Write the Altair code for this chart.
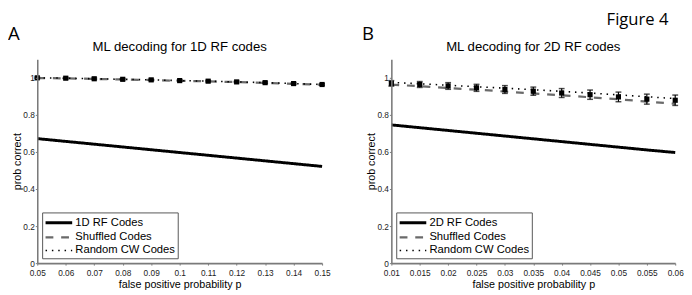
import altair as alt
import pandas as pd

# ---- data ----
x1 = [0.05, 0.06, 0.07, 0.08, 0.09, 0.10, 0.11, 0.12, 0.13, 0.14, 0.15]
rf1 = [0.672, 0.657, 0.642, 0.627, 0.612, 0.597, 0.582, 0.567, 0.552, 0.537, 0.522]
shuf1 = [0.999, 0.997, 0.994, 0.991, 0.988, 0.984, 0.981, 0.977, 0.973, 0.968, 0.963]
rand1 = [1.000, 0.998, 0.995, 0.992, 0.989, 0.985, 0.982, 0.978, 0.974, 0.969, 0.964]
err1 = [0.004, 0.004, 0.004, 0.004, 0.004, 0.004, 0.004, 0.004, 0.004, 0.004, 0.004]

x2 = [0.010, 0.015, 0.020, 0.025, 0.030, 0.035, 0.040, 0.045, 0.050, 0.055, 0.060]
rf2 = [0.746, 0.731, 0.716, 0.701, 0.686, 0.671, 0.656, 0.641, 0.626, 0.611, 0.597]
shuf2 = [0.963, 0.955, 0.945, 0.936, 0.926, 0.916, 0.906, 0.895, 0.884, 0.872, 0.860]
rand2 = [0.975, 0.968, 0.960, 0.952, 0.944, 0.936, 0.927, 0.918, 0.908, 0.898, 0.888]
mark2 = [0.970, 0.964, 0.956, 0.946, 0.937, 0.928, 0.918, 0.909, 0.897, 0.885, 0.879]
err2 = [0.015, 0.016, 0.018, 0.019, 0.021, 0.022, 0.024, 0.025, 0.026, 0.027, 0.028]

series1 = ["1D RF Codes", "Shuffled Codes", "Random CW Codes"]
series2 = ["2D RF Codes", "Shuffled Codes", "Random CW Codes"]
yticks = [0, 0.2, 0.4, 0.6, 0.8, 1]
xticks1 = [0.05, 0.06, 0.07, 0.08, 0.09, 0.1, 0.11, 0.12, 0.13, 0.14, 0.15]
xticks2 = [0.01, 0.015, 0.02, 0.025, 0.03, 0.035, 0.04, 0.045, 0.05, 0.055, 0.06]

FONT = "Liberation Sans"
LABEL_FONT = "Open Sans"
W1, W2, H = 292, 291, 209


def panel(xs, rf, shuf, rand, marks, errs, series, title, letter, xticks, xdom, w,
          extra_text=None):
    rows = []
    for s, ys in zip(series, [rf, shuf, rand]):
        for i, (xv, yv) in enumerate(zip(xs, ys)):
            rows.append({"x": xv, "y": yv, "series": s, "o": i})
    df = pd.DataFrame(rows)
    ebars = pd.DataFrame({
        "x": xs,
        "m": marks,
        "lo": [m - e for m, e in zip(marks, errs)],
        "hi": [m + e for m, e in zip(marks, errs)],
    })

    xsc = alt.Scale(domain=xdom, nice=False, zero=False)
    ysc = alt.Scale(domain=[0, 1.1], nice=False)
    xax = alt.Axis(values=xticks, format="~g", title="false positive probability p",
                   grid=False, labelOverlap=False, labelFlush=False, labelBound=False,
                   zindex=1)
    yax = alt.Axis(values=yticks, format="~g", title="prob correct", grid=False,
                   labelOverlap=False, zindex=1)

    lines = alt.Chart(df).mark_line().encode(
        x=alt.X("x:Q", scale=xsc, axis=xax),
        y=alt.Y("y:Q", scale=ysc, axis=yax),
        color=alt.Color("series:N", sort=series,
                        scale=alt.Scale(domain=series, range=["black", "#6a6a6a", "black"]),
                        legend=alt.Legend(title=None, orient="bottom-left", offset=5,
                                          symbolType="M-1,0H2.9", symbolSize=196,
                                          labelFont=FONT, labelFontSize=11.5,
                                          labelColor="black",
                                          strokeColor="#555", fillColor="white",
                                          padding=2, rowPadding=0, labelOffset=15)),
        strokeDash=alt.StrokeDash("series:N", sort=series,
                                  scale=alt.Scale(domain=series,
                                                  range=[[1, 0], [8, 8], [1.5, 5]])),
        strokeWidth=alt.StrokeWidth("series:N", sort=series,
                                    scale=alt.Scale(domain=series, range=[3, 1.6, 1.8])),
        order="o:Q",
    )

    rule = alt.Chart(ebars).mark_rule(color="black", strokeWidth=1.2).encode(
        x=alt.X("x:Q", axis=xax), y=alt.Y("lo:Q", axis=yax), y2="hi:Q")
    cap_lo = alt.Chart(ebars).mark_tick(color="black", orient="horizontal",
                                        size=6, thickness=1.5).encode(
        x=alt.X("x:Q", axis=xax), y=alt.Y("lo:Q", axis=yax))
    cap_hi = alt.Chart(ebars).mark_tick(color="black", orient="horizontal",
                                        size=6, thickness=1.5).encode(
        x=alt.X("x:Q", axis=xax), y=alt.Y("hi:Q", axis=yax))
    pts = alt.Chart(ebars).mark_square(color="black", size=28, opacity=1).encode(
        x=alt.X("x:Q", axis=xax), y=alt.Y("m:Q", axis=yax))

    let = alt.Chart(pd.DataFrame({"t": [letter]})).mark_text(
        align="left", baseline="alphabetic", font=LABEL_FONT, fontSize=19,
        color="black").encode(x=alt.value(-30), y=alt.value(-20), text="t:N")
    ttl = alt.Chart(pd.DataFrame({"t": [title]})).mark_text(
        align="center", baseline="alphabetic", font=FONT, fontSize=13.5,
        color="black").encode(x=alt.value(w / 2), y=alt.value(-9), text="t:N")

    layers = [lines, rule, cap_lo, cap_hi, pts, let, ttl]
    if extra_text is not None:
        fdf = pd.DataFrame({"t": [extra_text]})
        layers.append(alt.Chart(fdf).mark_text(
            align="right", baseline="top", font=LABEL_FONT, fontSize=17,
            color="black").encode(x=alt.value(284), y=alt.value(-48), text="t:N"))

    return alt.layer(*layers).properties(width=w, height=H)


left = panel(x1, rf1, shuf1, rand1, rand1, err1, series1,
             "ML decoding for 1D RF codes", "A", xticks1, [0.05, 0.15], W1)
right = panel(x2, rf2, shuf2, rand2, mark2, err2, series2,
              "ML decoding for 2D RF codes", "B", xticks2, [0.01, 0.06], W2,
              extra_text="Figure 4")

chart = alt.hconcat(left, right, spacing=32).resolve_scale(
    color="independent", strokeDash="independent", strokeWidth="independent",
    x="independent",
).properties(padding=0).configure_view(stroke=None).configure_axis(
    labelFont=FONT, labelFontSize=8.5, labelColor="#222", labelOverlap=False,
    titleFont=FONT, titleFontSize=11, titleFontWeight="normal", titleColor="black",
    domainColor="#7a7a7a", domainWidth=1.6, tickColor="#7a7a7a", tickSize=2,
    labelPadding=1,
).configure_axisX(titlePadding=1, labelPadding=4).configure_axisY(
    titlePadding=0, labelPadding=1)

chart.save("out.html", embed_options={"renderer": "svg", "actions": False})
